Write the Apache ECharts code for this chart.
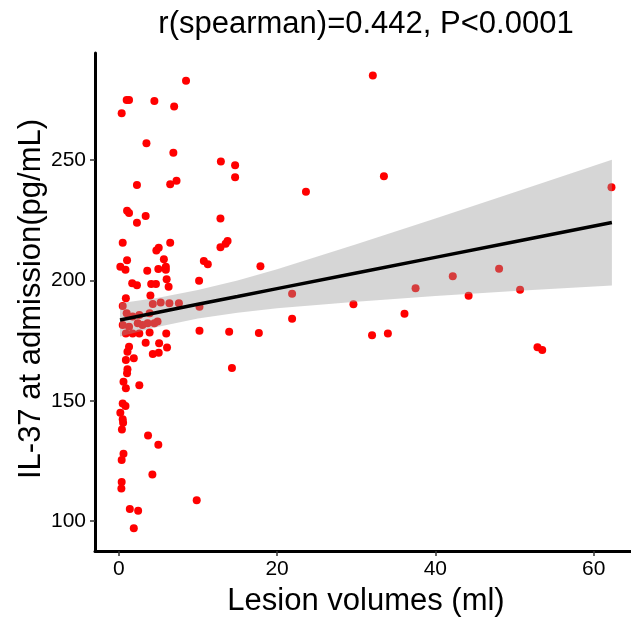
<!DOCTYPE html>
<html>
<head>
<meta charset="utf-8">
<script src="https://cdn.jsdelivr.net/npm/echarts@6/dist/echarts.min.js"></script>
<style>
html,body{margin:0;padding:0;background:#fff;}
#chart{width:631px;height:618px;}
</style>
</head>
<body>
<div id="chart"></div>
<script>
// Lesion volume (ml) and IL-37 at admission (pg/mL)
const volumes = [
  1.0,1.3,0.37,4.5,8.5,7.0,3.5,6.9,
  2.3,6.5,7.3,1.05,1.3,3.4,2.3,0.5,6.5,5.05,4.75,1.05,5.7,0.2,0.85,3.6,5.0,5.95,5.95,10.75,11.25,1.7,2.3,4.1,4.7,6.05,6.3,10.15,
  0.9,4.0,0.5,4.3,5.3,6.4,7.6,10.2,1.0,1.75,2.6,3.9,0.5,1.3,2.4,3.0,3.65,4.5,4.9,0.9,1.75,2.6,3.9,6.0,10.2,3.4,5.1,6.1,1.3,1.1,4.3,5.05,1.9,0.9,1.1,1.05,0.6,2.6,0.9,0.5,0.85,
  0.2,0.5,0.55,0.4,3.7,5.0,0.6,0.37,4.25,0.37,0.33,9.85,1.4,2.45,1.9,
  32.1,12.9,14.7,14.7,33.5,23.65,12.85,13.75,13.5,12.85,17.9,21.9,29.65,21.9,13.95,17.7,32.0,34.0,36.1,37.5,14.3,
  62.25,42.2,48.05,44.2,50.7,52.9,53.5
];
const il37 = [
  275,275,269.5,274.6,283,272.3,257,253.1,
  239.7,240,241.4,229,228,226.8,224,215.7,215.7,213.6,212.4,208.4,208.8,205.7,204.4,204,204.8,205.7,204.4,208.1,206.7,198.8,198,198.5,198.5,200.5,197.4,199.9,
  192.6,193.7,189.4,190.2,190.8,190.5,190.5,189.1,186.4,185,185.7,186.4,181.5,180.8,182.2,181.5,182.2,182.2,182.9,178,178,178,178.4,178,179.1,174.1,173.9,172.1,172.5,170.4,169.4,170,167.7,167,163.1,161.4,157.9,156.5,155.2,148.9,147.8,
  145,142.3,140.9,138.1,135.6,131.7,128,125.4,119.4,116.3,113.6,108.7,105.1,104.3,97.1,
  285.2,249.4,247.9,242.9,243.3,236.9,225.7,216.4,215.3,213.8,205.9,194.5,190.1,184.1,178.7,178.2,177.2,178,186.2,196.8,163.6,
  238.7,201.7,204.9,193.6,196.1,172.2,171.1
];
// Linear fit and its 95% confidence band
const fitX     = [0.16, 5, 10, 15, 20, 30, 40, 50, 62.3];
const fitY     = [183.6, 186.8, 190.1, 193.3, 196.6, 203.1, 209.6, 216.1, 224.1];
const fitUpper = [190.5, 192.8, 196.0, 200.0, 204.7, 215.0, 225.7, 236.6, 250.1];
const fitLower = [176.7, 180.8, 184.2, 186.6, 188.5, 191.2, 193.5, 195.6, 197.9];
const xTicks = [0, 20, 40, 60];
const yTicks = [100, 150, 200, 250];
const titleText = 'r(spearman)=0.442, P<0.0001';
const xTitle = 'Lesion volumes (ml)';
const yTitle = 'IL-37 at admission(pg/mL)';

const FONT = '"Liberation Sans", Arial, Helvetica, sans-serif';
const chart = echarts.init(document.getElementById('chart'), null, {renderer: 'canvas'});

const points = volumes.map((v, i) => [v, il37[i]]);
const band = fitX.map((x, i) => [x, fitLower[i], fitUpper[i]]);
const line = fitX.map((x, i) => [x, fitY[i]]);

const axisCommon = {
  type: 'value',
  splitLine: {show: false},
  axisLine: {show: true, onZero: false, lineStyle: {color: '#000', width: 3}},
  axisTick: {show: true, length: 5, lineStyle: {color: '#333', width: 1.5}},
};

chart.setOption({
  animation: false,
  backgroundColor: '#fff',
  grid: {left: 95, top: 53, width: 543, height: 498, containLabel: false, outerBoundsMode: 'none'},
  xAxis: Object.assign({}, axisCommon, {
    min: -3.0, max: 65.6,
    axisTick: Object.assign({}, axisCommon.axisTick, {customValues: xTicks}),
    axisLabel: {customValues: xTicks, color: '#000', fontSize: 21, fontFamily: FONT, margin: 8}
  }),
  yAxis: Object.assign({}, axisCommon, {
    min: 87.6, max: 294.5,
    axisTick: Object.assign({}, axisCommon.axisTick, {customValues: yTicks}),
    axisLabel: {customValues: yTicks, color: '#000', fontSize: 21, fontFamily: FONT, margin: 9}
  }),
  graphic: [
    {type: 'text', x: 366, y: 24, style: {text: titleText, font: '31px ' + FONT, fill: '#000', textAlign: 'center', textVerticalAlign: 'middle'}},
    {type: 'text', x: 366, y: 601, style: {text: xTitle, font: '31px ' + FONT, fill: '#000', textAlign: 'center', textVerticalAlign: 'middle'}},
    {type: 'text', x: 31, y: 299, rotation: Math.PI / 2, style: {text: yTitle, font: '31px ' + FONT, fill: '#000', textAlign: 'center', textVerticalAlign: 'middle'}}
  ],
  series: [
    {
      type: 'scatter', data: points, symbolSize: 8,
      itemStyle: {color: '#ff0000', opacity: 1}, z: 2
    },
    {
      type: 'custom', data: band, z: 3, silent: true,
      encode: {x: 0, y: [1, 2]},
      renderItem: function (params, api) {
        if (params.dataIndex !== 0) return null;
        const up = band.map(d => api.coord([d[0], d[2]]));
        const lo = band.map(d => api.coord([d[0], d[1]])).reverse();
        return {type: 'polygon', shape: {points: up.concat(lo)}, style: {fill: 'rgba(153,153,153,0.4)'}};
      }
    },
    {
      type: 'line', data: line, showSymbol: false, symbol: 'none', z: 4,
      lineStyle: {color: '#000', width: 3.5}
    }
  ]
});
</script>
</body>
</html>
